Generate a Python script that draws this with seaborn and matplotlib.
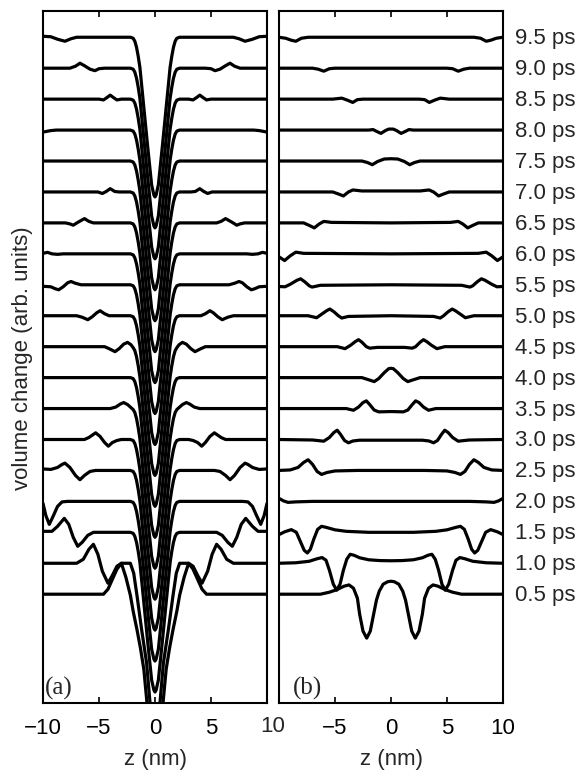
import numpy as np
import pandas as pd
import matplotlib
matplotlib.use("Agg")
import matplotlib.pyplot as plt
import seaborn as sns
from matplotlib.transforms import blended_transform_factory

# ---------------- data ----------------
TIMES = ["0.5", "1.0", "1.5", "2.0", "2.5", "3.0", "3.5", "4.0", "4.5", "5.0",
         "5.5", "6.0", "6.5", "7.0", "7.5", "8.0", "8.5", "9.0", "9.5"]
STEP = 31.0           # vertical offset between successive times (arb. units)
X_TICKS = [-10, -5, 0, 5, 10]

# panel (b): left halves (z in nm, deviation from baseline); curves are symmetric in z
B_05 = [(-10, 0), (-6.3, 0), (-5.5, 2), (-4.85, 4.5), (-4.2, 8), (-3.75, 9.3), (-3.35, 6), (-3.0, -4),
        (-2.8, -20), (-2.5, -37), (-2.17, -44), (-1.85, -37), (-1.55, -20), (-1.3, -6), (-1.05, 3),
        (-0.7, 10), (-0.3, 12.5), (0, 13)]
B_10 = [(-10, 0), (-8.5, 0.5), (-7.3, 2), (-6.6, 4.5), (-6.15, 5.7), (-5.8, 3), (-5.5, -7), (-5.15, -21),
        (-4.85, -27), (-4.55, -21), (-4.25, -7), (-3.95, 4), (-3.65, 9), (-3.3, 8), (-2.8, 5.5),
        (-2.0, 3.5), (-1.0, 2.7), (0, 2.5)]
B_15 = [(-10, -2.3), (-9.5, 0.5), (-8.9, 2.7), (-8.45, 0), (-8.1, -9), (-7.75, -18), (-7.47, -20.7),
        (-7.2, -17), (-6.9, -7), (-6.55, 3), (-6.2, 6), (-5.8, 5), (-5.0, 2.5), (-4.0, 1), (-2.0, 0), (0, 0)]
B_20 = [(-10, 3), (-9.6, 0.5), (-9.2, -1), (-8.5, -0.5), (-7.0, 0), (0, 0)]
B_25 = [(-10, 0), (-9.0, 0.5), (-8.3, 3), (-7.8, 8), (-7.4, 10.7), (-7.0, 6), (-6.6, -1), (-6.2, -4),
        (-5.7, -2), (-5.0, -0.5), (-3.0, 0), (0, 0)]
B_30 = [(-10, 0), (-7.0, -0.5), (-6.0, -1.7), (-5.5, 2), (-5.1, 7), (-4.8, 9.3), (-4.5, 5), (-4.15, -1),
        (-3.8, -3.3), (-3.4, -1.5), (-2.8, -0.7), (0, -0.7)]
B_35 = [(-10, 0), (-4.0, 0), (-3.35, -1.7), (-2.9, 1.5), (-2.5, 6), (-2.2, 7.7), (-1.9, 4), (-1.5, -1.5),
        (-1.1, -3.3), (0, -3.0)]
B_40 = [(-10, 0), (-2.6, 0), (-1.9, -2.5), (-1.5, -4), (-1.1, -1), (-0.6, 5), (-0.2, 9), (0, 9.3)]
B_45 = [(-10, 0), (-4.8, 0), (-4.1, -2), (-3.6, 1.5), (-3.2, 5), (-2.9, 7), (-2.6, 4.5), (-2.2, 0),
        (-1.9, -1.5), (-1.2, -0.7), (0, -0.7)]
B_50 = [(-10, 0), (-7.4, 0), (-6.64, -2), (-6.2, 1.5), (-5.75, 5), (-5.46, 6.7), (-5.1, 4), (-4.7, 0),
        (-4.4, -2.3), (-3.8, -0.7), (0, 0)]
B_55 = [(-10, -1.7), (-9.46, -2), (-9.0, 0.5), (-8.4, 4.5), (-8.07, 6), (-7.7, 3), (-7.3, -1),
        (-7.05, -2.3), (-6.3, -0.5), (0, 0)]
B_60 = [(-10, -3), (-9.5, -6.7), (-9.0, -2), (-8.5, 1.7), (-7.8, 0.5), (0, 0)]
B_65 = [(-10, 0), (-7.8, 0), (-7.3, -2.5), (-6.85, -5), (-6.4, -1), (-6.0, 1.5), (-5.3, 0.5), (0, 0)]
B_70 = [(-10, 0), (-5.2, 0), (-4.7, -2), (-4.25, -4), (-3.8, 0), (-3.4, 2), (-2.6, 1), (0, 1)]
B_75 = [(-10, 0), (-2.6, 0), (-2.1, -1.5), (-1.67, -3.7), (-1.2, -0.5), (-0.6, 2), (0, 2.3)]
B_80 = [(-10, 0), (-2.0, 0), (-1.6, 0.5), (-1.25, -1.5), (-0.9, -3.3), (-0.5, -0.5), (-0.2, 1), (0, 1)]
B_85 = [(-10, 0), (-5.2, 0), (-4.4, 1), (-3.9, -1), (-3.42, -3.3), (-3.0, -0.5), (-2.5, 0), (0, 0)]
B_90 = [(-10, 0), (-7.0, 0), (-6.5, -1), (-6.0, -3), (-5.5, -0.5), (-5.0, 0), (0, 0)]
B_95 = [(-10, 0), (-9.4, -1), (-8.9, -3), (-8.5, -4), (-8.0, -1), (-7.4, 0), (0, 0)]

# panel (a): left halves; the static central dip (shared) is appended where a list stops short of it
A_CENTER = [(-1.95, -1), (-1.8, -4), (-1.65, -10), (-1.5, -19), (-1.35, -30), (-1.0, -70),
            (-0.65, -110), (-0.3, -148), (-0.1, -158), (0, -160)]
A_05 = [(-10, 0), (-4.6, 0), (-4.2, 5), (-3.8, 15), (-3.4, 25), (-3.0, 31), (-2.6, 17), (-2.2, -1),
        (-1.95, -17), (-1.6, -36), (-1.3, -54), (-1.0, -75), (-0.74, -106), (-0.4, -150), (0, -200)]
A_10 = [(-10, 0), (-7.0, 0), (-6.4, 4), (-5.9, 14), (-5.5, 19), (-5.1, 9), (-4.7, -8), (-4.2, -20),
        (-3.8, -12), (-3.4, -3), (-3.0, 0), (-2.2, 0), (-1.9, -10), (-1.6, -33), (-1.2, -66),
        (-0.75, -100), (-0.45, -139), (0, -180)]
A_15 = [(-10, 1), (-9.2, 1), (-8.7, 6), (-8.1, 14), (-7.7, 8), (-7.3, -5), (-6.9, -14), (-6.5, -10),
        (-6.0, -3), (-5.5, 0), (-2.2, 0)]
A_20 = [(-10, -2), (-9.75, -14), (-9.44, -23), (-9.1, -15), (-8.7, -5), (-8.3, -0.5), (-7.8, 0), (-2.2, 0)]
A_25 = [(-10, 1.5), (-9.3, 1), (-8.7, 3), (-8.3, 6), (-8.04, 7.3), (-7.6, 3), (-7.1, -5), (-6.7, -9.3),
        (-6.3, -5), (-5.8, -1), (-5.3, 0), (-2.2, 0)]
A_30 = [(-10, 0), (-6.3, 0), (-5.9, 2), (-5.3, 6.7), (-4.9, 3), (-4.5, -3), (-4.17, -6.7), (-3.8, -3),
        (-3.4, -1), (-3.0, 0), (-2.2, 0)]
A_35 = [(-10, 0), (-4.0, 0), (-3.5, 1.5), (-3.1, 4.5), (-2.8, 6), (-2.45, 4), (-2.15, 1)]
A_40 = [(-10, 0), (-2.2, 0)]
A_45 = [(-10, 0), (-4.5, 0), (-4.1, -2), (-3.57, -5), (-3.2, -2), (-2.8, 2.5), (-2.45, 4.3), (-2.15, 2)]
A_50 = [(-10, 0), (-7.0, 0), (-6.5, -1.5), (-6.0, -4), (-5.6, -1), (-5.2, 3), (-4.9, 5), (-4.5, 2),
        (-4.1, 0), (-2.2, 0)]
A_55 = [(-10, -1.5), (-9.3, -2), (-8.9, -4), (-8.6, -5), (-8.2, -2), (-7.8, 2), (-7.5, 3.3), (-7.1, 1.5),
        (-6.6, 0), (-2.2, 0)]
A_60 = [(-10, 0.5), (-9.6, 1.5), (-9.2, 0), (-8.7, -0.5), (-8.2, 0), (-2.2, 0)]
A_65 = [(-10, 0), (-8.0, 0), (-7.6, -1), (-7.3, -2.3), (-6.9, 0.5), (-6.3, 4.3), (-5.9, 1.5), (-5.5, 0),
        (-2.2, 0)]
A_70 = [(-10, 0), (-5.1, 0), (-4.7, -1.5), (-4.35, 0.5), (-4.0, 3.3), (-3.6, 0.5), (-3.2, 0), (-2.2, 0)]
A_75 = [(-10, 0), (-2.2, 0)]
A_80 = [(-10, -2), (-9.3, -0.5), (-8.8, 0), (-2.2, 0)]
A_85 = [(-10, 0), (-5.0, 0), (-4.6, -0.8), (-4.3, 1.5), (-4.0, 4), (-3.7, 1.5), (-3.4, -0.8), (-3.0, 0),
        (-2.2, 0)]
A_90 = [(-10, 0), (-7.6, 0), (-7.1, 2), (-6.7, 5), (-6.3, 2.5), (-5.8, -1), (-5.36, -2.5), (-5.0, -0.5),
        (-4.5, 0), (-2.2, 0)]
A_95 = [(-10, 1), (-9.3, 0.5), (-8.7, -2), (-8.04, -4), (-7.5, -1.5), (-7.0, 0), (-2.2, 0)]

A_HALVES = [A_05, A_10, A_15, A_20, A_25, A_30, A_35, A_40, A_45, A_50,
            A_55, A_60, A_65, A_70, A_75, A_80, A_85, A_90, A_95]
B_HALVES = [B_05, B_10, B_15, B_20, B_25, B_30, B_35, B_40, B_45, B_50,
            B_55, B_60, B_65, B_70, B_75, B_80, B_85, B_90, B_95]


def full_curve(half):
    """Mirror a left-half list (z <= 0) to the full symmetric profile."""
    right = [(-z, d) for (z, d) in reversed(half) if z < 0]
    return half + right


def build_frame(halves, center=None):
    rows = []
    for i, (t, half) in enumerate(zip(TIMES, halves)):
        pts = list(half)
        if center is not None and pts[-1][0] < center[0][0]:
            pts = pts + center
        for k, (z, d) in enumerate(full_curve(pts)):
            rows.append({"time": t, "order": k, "z": z, "v": i * STEP + d})
    return pd.DataFrame(rows)


df_a = build_frame(A_HALVES, A_CENTER)
df_b = build_frame(B_HALVES)

# ---------------- figure ----------------
sns.set_theme(style="white")
plt.rcParams["font.family"] = ["Liberation Sans", "DejaVu Sans"]

W, H = 581, 772
FS = 16
fig = plt.figure(figsize=(W / 100, H / 100), dpi=100)
bottom = 1 - 703 / H
top = 1 - 11 / H
ax_a = fig.add_axes([43 / W, bottom, (267 - 43) / W, top - bottom])
ax_b = fig.add_axes([279 / W, bottom, (503 - 279) / W, top - bottom])

YLIM = (-109, 18 * STEP + 26.3)

for ax, df in ((ax_a, df_a), (ax_b, df_b)):
    sns.lineplot(data=df, x="z", y="v", units="time", estimator=None, sort=False,
                 color="black", linewidth=2.3, ax=ax, legend=False)
    for line in ax.lines:
        line.set_solid_joinstyle("round")
        line.set_solid_capstyle("round")
    ax.set_xlim(-10, 10)
    ax.set_ylim(*YLIM)
    ax.set_yticks([])
    ax.set_xticks(X_TICKS)
    ax.tick_params(axis="x", direction="in", top=True, bottom=True, length=4, width=1.2,
                   labelsize=FS, pad=11, colors="black")
    for sp in ax.spines.values():
        sp.set_visible(True)
        sp.set_linewidth(1.5)
        sp.set_color("black")
    ax.set_ylabel("")
    ax.set_xlabel("z (nm)", fontsize=FS, labelpad=7)

ax_a.set_xticklabels(["\u221210", "\u22125", "0", "5", ""])
ax_b.set_xticklabels(["", "\u22125", "0", "5", "10"])
fig.text(273 / W, 1 - 726 / H, "10", ha="center", va="center", fontsize=FS)

ax_a.text(0.008, 0.004, "(a)", transform=ax_a.transAxes, ha="left", va="bottom",
          fontsize=18, family=["Liberation Serif", "DejaVu Serif"])
ax_b.text(0.06, 0.004, "(b)", transform=ax_b.transAxes, ha="left", va="bottom",
          fontsize=18, family=["Liberation Serif", "DejaVu Serif"])

fig.text(23 / W, 1 - 358 / H, "volume change (arb. units)", rotation=90,
         ha="center", va="center", fontsize=FS)

trans = blended_transform_factory(ax_b.transAxes, ax_b.transData)
for i, t in enumerate(TIMES):
    ax_b.text((515 - 279) / (503 - 279), i * STEP - 1.5, f"{t} ps", transform=trans,
              ha="left", va="center", fontsize=FS, clip_on=False)

fig.savefig("out.png", dpi=100)
